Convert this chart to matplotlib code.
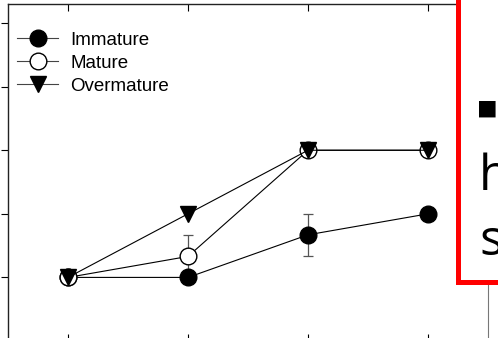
import matplotlib
matplotlib.use("Agg")
import matplotlib.pyplot as plt
from matplotlib.patches import Rectangle

stages = [1, 2, 3, 4]
immature = [1, 1, 1.67, 2]
immature_err = [0, 0, 0.33, 0]
mature = [1, 1.33, 3, 3]
mature_err = [0, 0.33, 0, 0]
overmature = [1, 2, 3, 3]

fig = plt.figure(figsize=(4.98, 3.38), dpi=100)
ax = fig.add_axes([8/498, 1 - 341/338, 480/498, 337/338])

# error bars first, markers on top
ax.errorbar(stages, immature, yerr=immature_err, fmt="none", ecolor="#555555",
            elinewidth=0.9, capsize=3.5, capthick=0.9, zorder=2)
ax.errorbar(stages, mature, yerr=mature_err, fmt="none", ecolor="#555555",
            elinewidth=0.9, capsize=3.5, capthick=0.9, zorder=2)
l1, = ax.plot(stages, immature, color="black", marker="o", ms=12, mfc="black",
              lw=0.8, label="Immature", zorder=3)
l2, = ax.plot(stages, mature, color="black", marker="o", ms=12, mfc="white",
              lw=0.8, label="Mature", zorder=4)
l3, = ax.plot(stages, overmature, color="black", marker="v", ms=12, mfc="black",
              lw=0.8, label="Overmature", zorder=5)

ax.set_xlim(0.5, 4.5)
ax.set_ylim(0, 5.3)
ax.set_xticks(stages)
ax.set_yticks([1, 2, 3, 4, 5])
ax.set_xticklabels([])
ax.set_yticklabels([])
ax.tick_params(axis="x", direction="in", top=True, bottom=True, length=5, width=0.8)
ax.tick_params(axis="y", direction="out", left=True, right=False, length=5, width=0.8)
for s in ["left", "top", "bottom"]:
    ax.spines[s].set_linewidth(1.0)
    ax.spines[s].set_color("#222222")
ax.spines["right"].set_color("#777777")
ax.spines["right"].set_linewidth(0.8)

leg = ax.legend(handles=[l1, l2, l3], loc="upper left",
                bbox_to_anchor=(9/480, 0.918), frameon=False,
                prop={"family": "Liberation Sans", "size": 13.5},
                handlelength=2.2, handletextpad=0.64, labelspacing=0.32,
                borderaxespad=0, borderpad=0)
for h in leg.get_lines():
    h.set_color("#444444")
    h.set_markeredgecolor("black")

# slide overlay box
box = Rectangle((457.5/498, 1 - 281.5/338), 0.2, 0.9, transform=fig.transFigure,
                facecolor="white", edgecolor="red", linewidth=3.6, zorder=10,
                clip_on=False)
fig.patches.append(box)
fig.text(476/498, 1 - 118/338, "\u25aa", fontsize=24, color="black", zorder=11,
         family="DejaVu Sans", va="baseline")
fig.text(479/498, 1 - 190/338, "h", fontsize=36, color="black", zorder=11,
         family="Open Sans", va="baseline")
fig.text(479/498, 1 - 255/338, "s", fontsize=36, color="black", zorder=11,
         family="Open Sans", va="baseline")

fig.savefig("out.png", dpi=100)
